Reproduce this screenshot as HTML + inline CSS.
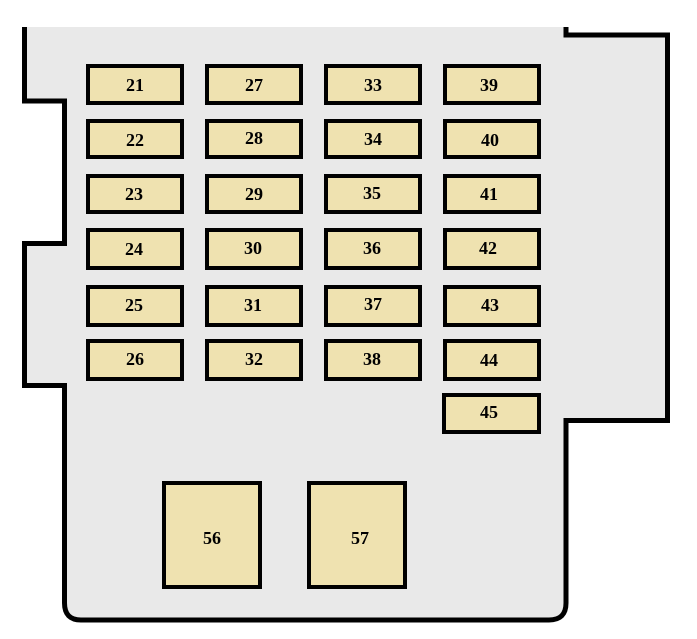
<!DOCTYPE html>
<html><head><style>body{margin:0;background:#fff}svg{display:block}</style></head><body>
<svg width="697" height="639" viewBox="0 0 697 639" xmlns="http://www.w3.org/2000/svg">
<path d="M24.5 27 V101 H64.5 V243.5 H24.5 V385.5 H64.5 V603 Q64.5 620 81 620 H549 Q566 620 566 603 V420.5 H667.5 V35 H566 V27 Z" fill="#e9e9e9" stroke="none"/>
<path d="M24.5 27 V101 H64.5 V243.5 H24.5 V385.5 H64.5 V603 Q64.5 620 81 620 H549 Q566 620 566 603 V420.5 H667.5 V35 H566 V27" fill="none" stroke="#000" stroke-width="5"/>
<g fill="#efe2b0" stroke="#000" stroke-width="4">
<rect x="88" y="66" width="94" height="37"/><rect x="207" y="66" width="94" height="37"/><rect x="326" y="66" width="94" height="37"/><rect x="445" y="66" width="94" height="37"/>
<rect x="88" y="121" width="94" height="36"/><rect x="207" y="121" width="94" height="36"/><rect x="326" y="121" width="94" height="36"/><rect x="445" y="121" width="94" height="36"/>
<rect x="88" y="176" width="94" height="36"/><rect x="207" y="176" width="94" height="36"/><rect x="326" y="176" width="94" height="36"/><rect x="445" y="176" width="94" height="36"/>
<rect x="88" y="230" width="94" height="38"/><rect x="207" y="230" width="94" height="38"/><rect x="326" y="230" width="94" height="38"/><rect x="445" y="230" width="94" height="38"/>
<rect x="88" y="287" width="94" height="38"/><rect x="207" y="287" width="94" height="38"/><rect x="326" y="287" width="94" height="38"/><rect x="445" y="287" width="94" height="38"/>
<rect x="88" y="341" width="94" height="38"/><rect x="207" y="341" width="94" height="38"/><rect x="326" y="341" width="94" height="38"/><rect x="445" y="341" width="94" height="38"/>
<rect x="444" y="395" width="95" height="37"/>
<rect x="164" y="483" width="96" height="104"/><rect x="309" y="483" width="96" height="104"/>
</g>
<g font-family="Liberation Serif, serif" font-weight="bold" font-size="18" text-anchor="middle" fill="#000">
<text x="135" y="91">21</text><text x="254" y="91">27</text><text x="373" y="91">33</text><text x="489" y="91">39</text>
<text x="135" y="146">22</text><text x="254" y="144">28</text><text x="373" y="145">34</text><text x="490" y="146">40</text>
<text x="134" y="200">23</text><text x="254" y="200">29</text><text x="372" y="199">35</text><text x="489" y="200">41</text>
<text x="134" y="255">24</text><text x="253" y="254">30</text><text x="372" y="254">36</text><text x="488" y="254">42</text>
<text x="134" y="311">25</text><text x="253" y="311">31</text><text x="373" y="310">37</text><text x="490" y="311">43</text>
<text x="135" y="365">26</text><text x="254" y="365">32</text><text x="372" y="365">38</text><text x="489" y="366">44</text>
<text x="489" y="418">45</text>
<text x="212" y="544">56</text><text x="360" y="544">57</text>
</g>
</svg>
</body></html>
